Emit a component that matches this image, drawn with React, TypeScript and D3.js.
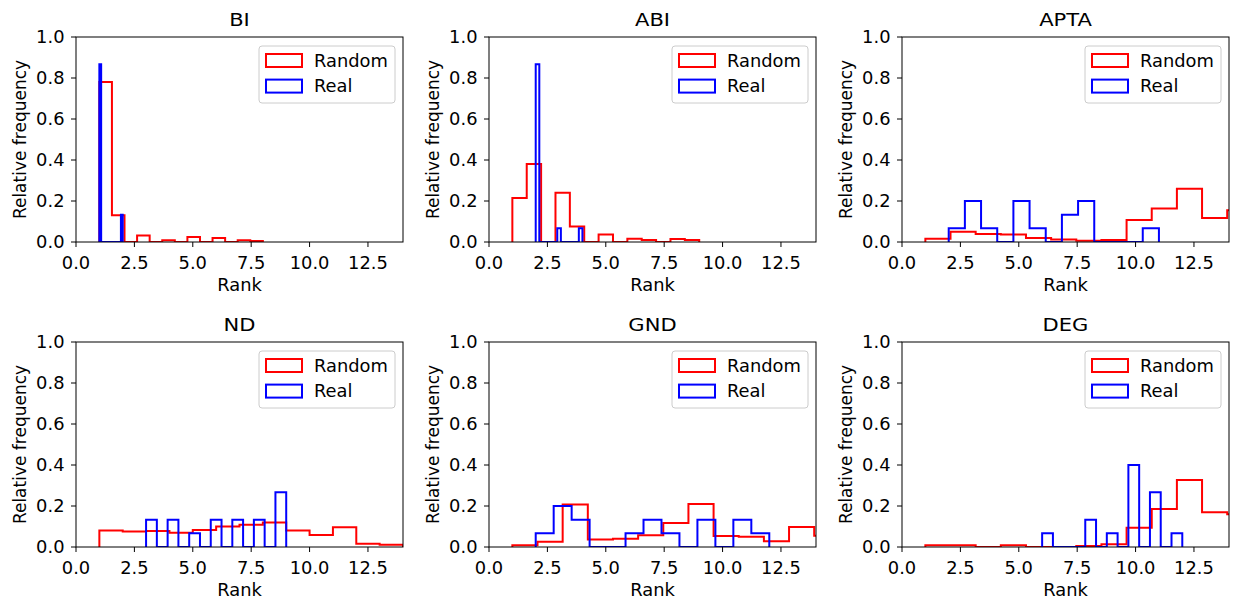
import React from "react";
import * as d3 from "d3";

const titles = ["BI", "ABI", "APTA", "ND", "GND", "DEG"];

// first and last bin edge of each histogram; each one has 13 bins
const randomRanges = [[1, 8], [1, 9], [1, 15], [1, 14], [1, 15], [1, 15]];
const realRanges = [[1, 2], [2, 4], [2, 11], [3, 9], [2, 12], [6, 12]];

const randomFreq = [
  [0.78, 0.13, 0, 0.032, 0, 0.008, 0, 0.024, 0, 0.02, 0, 0.008, 0.005],
  [0.215, 0.38, 0, 0.24, 0.076, 0, 0.036, 0, 0.016, 0.01, 0, 0.015, 0.01],
  [0.016, 0.05, 0.039, 0.037, 0.02, 0.012, 0.006, 0.01, 0.107, 0.163, 0.26, 0.117, 0.155],
  [0.08, 0.076, 0.078, 0.07, 0.083, 0.1, 0.109, 0.119, 0.08, 0.059, 0.096, 0.016, 0.011],
  [0.008, 0.026, 0.207, 0.036, 0.04, 0.057, 0.117, 0.21, 0.054, 0.05, 0.028, 0.098, 0.055],
  [0.008, 0.008, 0, 0.008, 0, 0, 0.005, 0.013, 0.094, 0.185, 0.327, 0.17, 0.16],
];

const realFreq = [
  [0.867, 0, 0, 0, 0, 0, 0, 0, 0, 0, 0, 0, 0.133],
  [0.867, 0, 0, 0, 0, 0, 0.067, 0, 0, 0, 0, 0, 0.067],
  [0.067, 0.2, 0.067, 0, 0.2, 0.067, 0, 0.133, 0.2, 0, 0, 0, 0.067],
  [0.133, 0, 0.133, 0, 0.067, 0, 0.133, 0, 0.133, 0, 0.133, 0, 0.267],
  [0.067, 0.2, 0.133, 0, 0, 0.067, 0.133, 0.067, 0, 0.133, 0, 0.133, 0.067],
  [0.067, 0, 0, 0, 0.133, 0, 0.067, 0, 0.4, 0, 0.267, 0, 0.067],
];

const xTicks = [0, 2.5, 5, 7.5, 10, 12.5];
const yTicks = [0, 0.2, 0.4, 0.6, 0.8, 1.0];
const legendLabels = ["Random", "Real"];
const colors = ["red", "blue"];

const colLeft = [76, 489, 902];
const rowTop = [37, 342];
const W = 327;
const H = 205;
const FONT = "DejaVu Sans";

const fmt = d3.format(".1f");

// step outline of a histogram, like matplotlib histtype="step"
const stepPoints = (range, freq) => {
  const [lo, hi] = range;
  const n = freq.length;
  const edges = d3.range(n + 1).map((i) => lo + ((hi - lo) * i) / n);
  const pts = [[edges[0], 0]];
  freq.forEach((v, i) => {
    pts.push([edges[i], v]);
    pts.push([edges[i + 1], v]);
  });
  pts.push([edges[n], 0]);
  return pts;
};

// the picture is stretched a little sideways, so text gets a scaleX
const Txt = ({ x, y, size, sx = 1.05, anchor = "middle", rotate = 0, children }) => (
  <text
    transform={`translate(${x},${y}) scale(${sx},1)${rotate ? ` rotate(${rotate})` : ""}`}
    fontFamily={FONT}
    fontSize={size}
    textAnchor={anchor}
    fill="#000"
  >
    {children}
  </text>
);

const Panel = ({ idx }) => {
  const left = colLeft[idx % 3];
  const top = rowTop[Math.floor(idx / 3)];
  const x = d3.scaleLinear().domain([0, 14]).range([left, left + W]);
  const y = d3.scaleLinear().domain([0, 1]).range([top + H, top]);
  const line = d3
    .line()
    .x((d) => x(d[0]))
    .y((d) => y(d[1]));
  const series = [
    stepPoints(randomRanges[idx], randomFreq[idx]),
    stepPoints(realRanges[idx], realFreq[idx]),
  ];
  const clipId = `clip-${idx}`;
  const lgW = 136;
  const lgH = 57;
  const lgX = left + W - 8 - lgW;
  const lgTop = top + 9;

  return (
    <g>
      <defs>
        <clipPath id={clipId}>
          <rect x={left} y={top} width={W} height={H} />
        </clipPath>
      </defs>
      <g clipPath={`url(#${clipId})`}>
        {series.map((pts, i) => (
          <path key={i} d={line(pts)} fill="none" stroke={colors[i]} strokeWidth={2} />
        ))}
      </g>
      <rect x={left} y={top} width={W} height={H} fill="none" stroke="#000" strokeWidth={1} />
      {xTicks.map((t) => (
        <g key={t}>
          <line x1={x(t)} x2={x(t)} y1={top + H} y2={top + H + 5} stroke="#000" />
          <Txt x={x(t)} y={top + H + 27} size={17}>
            {fmt(t)}
          </Txt>
        </g>
      ))}
      {yTicks.map((t) => (
        <g key={t}>
          <line x1={left - 5} x2={left} y1={y(t)} y2={y(t)} stroke="#000" />
          <Txt x={left - 11.5} y={y(t) + 6.2} size={17} anchor="end">
            {fmt(t)}
          </Txt>
        </g>
      ))}
      <Txt x={left + W / 2} y={top + H + 49} size={17}>
        Rank
      </Txt>
      <Txt x={left - 50} y={top + H / 2} size={17} sx={1} rotate={-90}>
        Relative frequency
      </Txt>
      <Txt x={left + W / 2} y={top - 11} size={18} sx={1.17}>
        {titles[idx]}
      </Txt>
      <rect
        x={lgX}
        y={lgTop}
        width={lgW}
        height={lgH}
        rx={3}
        fill="#fff"
        fillOpacity={0.8}
        stroke="#cccccc"
        strokeWidth={1}
      />
      {legendLabels.map((lab, i) => (
        <g key={lab}>
          <rect
            x={lgX + 7}
            y={lgTop + 8 + i * 25.6}
            width={36}
            height={13}
            fill="none"
            stroke={colors[i]}
            strokeWidth={2}
          />
          <Txt x={lgX + 55} y={lgTop + 20.7 + i * 25.6} size={17} anchor="start">
            {lab}
          </Txt>
        </g>
      ))}
    </g>
  );
};

export default function App() {
  return (
    <svg
      width={1236}
      height={600}
      style={{ position: "absolute", left: 0, top: 0, background: "#fff" }}
    >
      {titles.map((t, i) => (
        <Panel key={t} idx={i} />
      ))}
    </svg>
  );
}
